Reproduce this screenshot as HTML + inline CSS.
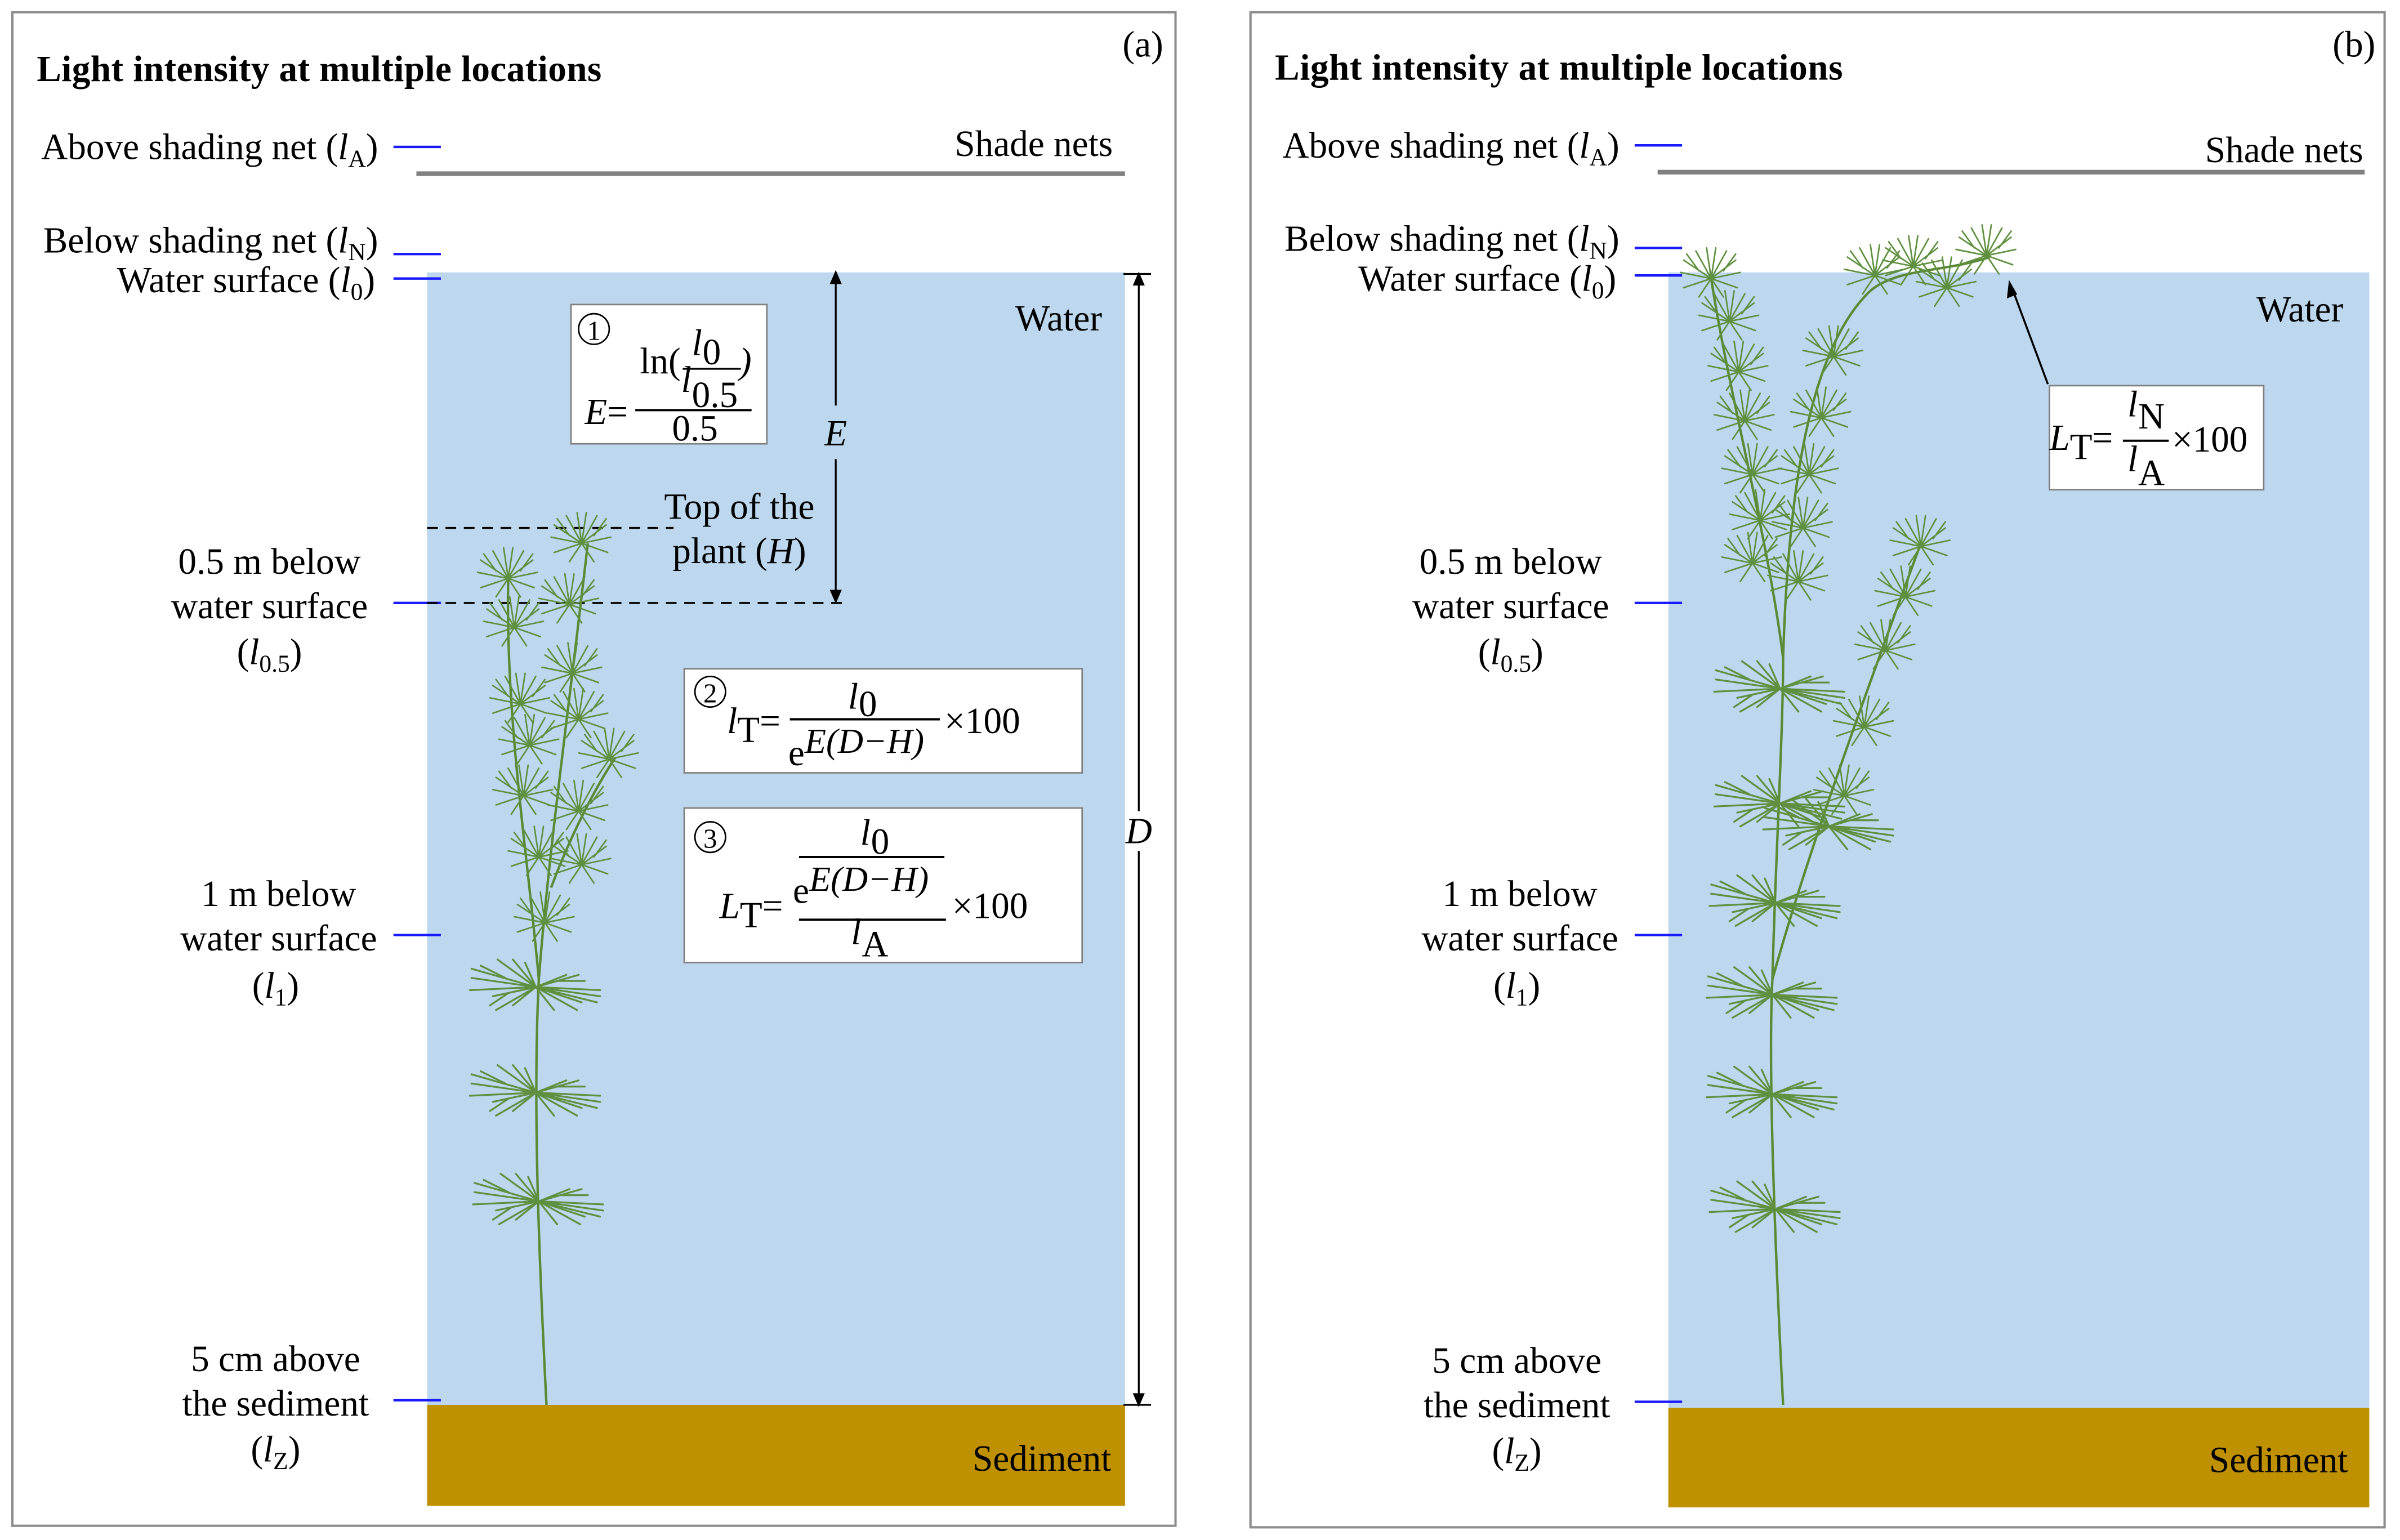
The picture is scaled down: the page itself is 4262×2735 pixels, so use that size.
<!DOCTYPE html>
<html><head><meta charset="utf-8"><style>html,body{margin:0;padding:0;background:#fff}svg{display:block}</style></head><body>
<svg width="4262" height="2735" viewBox="0 0 1568 1006.3" xmlns="http://www.w3.org/2000/svg" font-family="Liberation Serif, serif">
<defs>
<g id="w" stroke="#5f9040" stroke-width="1.2" fill="none" stroke-linecap="round">
<path d="M0,0L-42,-12M0,0L-42,-6M0,0L-43,2M0,0L-28,6M0,0L-26,15M0,0L-15,12M0,0L-25,-18M0,0L-15,-18M0,0L-7,-16M-20,-6L-36,-14M-18,4L-30,12"/>
<path d="M0,0L42,2M0,0L42,6M0,0L40,10M0,0L20,-8M0,0L28,-8M0,0L12,15M0,0L27,15M0,0L30,10M14,-4L32,-4"/>
</g>
<g id="s" stroke="#5f9040" stroke-width="1" fill="none" stroke-linecap="round">
<path d="M0,0L-18,-12M0,0L-20,-4M0,0L-18,6M0,0L-10,-18M0,0L-3,-20M0,0L16,-12M0,0L19,-4M0,0L17,6M0,0L10,-18M0,0L3,-20M-8,-5L-16,-16M8,-5L16,-16M0,0L-8,12M0,0L8,12"/>
</g>
</defs>
<rect x="8" y="8" width="760" height="989" fill="none" stroke="#8c8c8c" stroke-width="1.5"/>
<rect x="817" y="8" width="741" height="990" fill="none" stroke="#8c8c8c" stroke-width="1.5"/>

<!-- Panel A -->
<rect x="279" y="178" width="456" height="741" fill="#bdd7ee"/>
<rect x="279" y="918" width="456" height="66" fill="#bf9000"/>
<line x1="272" y1="113.5" x2="735" y2="113.5" stroke="#808080" stroke-width="3"/>
<g stroke="#1a1aff" stroke-width="1.6">
<line x1="257" y1="96" x2="288" y2="96"/><line x1="257" y1="166" x2="288" y2="166"/><line x1="257" y1="182" x2="288" y2="182"/>
<line x1="257" y1="394" x2="288" y2="394"/><line x1="257" y1="611" x2="288" y2="611"/><line x1="257" y1="915" x2="288" y2="915"/>
</g>
<g font-size="24" fill="#000">
<text x="24" y="53" font-weight="bold" textLength="369">Light intensity at multiple locations</text>
<text x="760" y="37" text-anchor="end">(a)</text>
<text x="247" y="104" text-anchor="end">Above shading net (<tspan font-style="italic">l</tspan><tspan font-size="16" dy="5">A</tspan><tspan dy="-5">)</tspan></text>
<text x="727" y="102" text-anchor="end">Shade nets</text>
<text x="247" y="165" text-anchor="end">Below shading net (<tspan font-style="italic">l</tspan><tspan font-size="16" dy="5">N</tspan><tspan dy="-5">)</tspan></text>
<text x="245" y="191" text-anchor="end">Water surface (<tspan font-style="italic">l</tspan><tspan font-size="16" dy="5">0</tspan><tspan dy="-5">)</tspan></text>
<text x="720" y="216" text-anchor="end">Water</text>
<text x="176" y="375" text-anchor="middle">0.5 m below</text>
<text x="176" y="404" text-anchor="middle">water surface</text>
<text x="176" y="434" text-anchor="middle">(<tspan font-style="italic">l</tspan><tspan font-size="16" dy="5">0.5</tspan><tspan dy="-5">)</tspan></text>
<text x="182" y="592" text-anchor="middle">1 m below</text>
<text x="182" y="621" text-anchor="middle">water surface</text>
<text x="180" y="652" text-anchor="middle">(<tspan font-style="italic">l</tspan><tspan font-size="16" dy="5">1</tspan><tspan dy="-5">)</tspan></text>
<text x="180" y="896" text-anchor="middle">5 cm above</text>
<text x="180" y="925" text-anchor="middle">the sediment</text>
<text x="180" y="955" text-anchor="middle">(<tspan font-style="italic">l</tspan><tspan font-size="16" dy="5">Z</tspan><tspan dy="-5">)</tspan></text>
<text x="726" y="961" text-anchor="end">Sediment</text>
<text x="483" y="339" text-anchor="middle">Top of the</text>
<text x="483" y="368" text-anchor="middle">plant (<tspan font-style="italic">H</tspan>)</text>
<text x="546" y="291" text-anchor="middle" font-style="italic">E</text>
<text x="744" y="551" text-anchor="middle" font-style="italic">D</text>
</g>
<g stroke="#000" stroke-width="1.3" stroke-dasharray="7,5">
<line x1="279" y1="345" x2="440" y2="345"/><line x1="279" y1="394" x2="552" y2="394"/>
</g>
<g stroke="#000" stroke-width="1.2" fill="#000">
<line x1="546" y1="184" x2="546" y2="265"/><path d="M546,178l-3,7h6z"/>
<line x1="546" y1="300" x2="546" y2="388"/><path d="M546,393l-3,-7h6z"/>
<line x1="734" y1="179" x2="752" y2="179"/><line x1="734" y1="918" x2="752" y2="918"/>
<line x1="744" y1="184" x2="744" y2="530"/><path d="M744,179l-3,7h6z"/>
<line x1="744" y1="556" x2="744" y2="912"/><path d="M744,918l-3,-7h6z"/>
</g>
<g fill="#fff" stroke="#7f7f7f" stroke-width="1">
<rect x="373" y="199" width="128" height="91"/>
<rect x="447" y="437" width="260" height="68"/>
<rect x="447" y="528" width="260" height="101"/>
</g>
<g font-size="24" fill="#000">
<circle cx="388" cy="215" r="10" fill="none" stroke="#000" stroke-width="1"/><text x="388" y="222" text-anchor="middle" font-size="18">1</text>
<text x="418" y="244">ln(</text>
<text x="452" y="232" font-style="italic">l</text><text x="459" y="238">0</text>
<line x1="446" y1="241" x2="484" y2="241" stroke="#000" stroke-width="1.2"/>
<text x="445" y="256" font-style="italic">l</text><text x="452" y="266">0.5</text>
<text x="483" y="244" font-style="italic">)</text>
<text x="382" y="277"><tspan font-style="italic">E</tspan>=</text>
<line x1="415" y1="268" x2="491" y2="268" stroke="#000" stroke-width="1.5"/>
<text x="439" y="288">0.5</text>

<circle cx="464" cy="452" r="10" fill="none" stroke="#000" stroke-width="1"/><text x="464" y="459" text-anchor="middle" font-size="18">2</text>
<text x="475" y="479"><tspan font-style="italic">l</tspan><tspan dy="6">T</tspan><tspan dy="-6">=</tspan></text>
<text x="554" y="463" font-style="italic">l</text><text x="561" y="468">0</text>
<line x1="516" y1="470" x2="614" y2="470" stroke="#000" stroke-width="1.5"/>
<text x="515" y="500">e<tspan font-style="italic" dy="-8" font-size="23">E(D−H)</tspan></text>
<text x="617" y="479">×100</text>

<circle cx="464" cy="547" r="10" fill="none" stroke="#000" stroke-width="1"/><text x="464" y="554" text-anchor="middle" font-size="18">3</text>
<text x="562" y="552" font-style="italic">l</text><text x="569" y="558">0</text>
<line x1="522" y1="560" x2="617" y2="560" stroke="#000" stroke-width="1.5"/>
<text x="518" y="590">e<tspan font-style="italic" dy="-8" font-size="23">E(D−H)</tspan></text>
<text x="470" y="600"><tspan font-style="italic">L</tspan><tspan dy="6">T</tspan><tspan dy="-6">=</tspan></text>
<line x1="522" y1="601" x2="618" y2="601" stroke="#000" stroke-width="1.5"/>
<text x="556" y="617" font-style="italic">l</text><text x="563" y="625">A</text>
<text x="622" y="600">×100</text>
</g>
<g stroke="#5a8a36" stroke-width="1.6" fill="none">
<path d="M357,918 C352,820 348,720 352,640 C358,560 372,460 384,355"/>
<path d="M352,640 C345,560 330,470 332,378"/>
<path d="M360,580 C375,540 392,510 402,495"/>
</g>
<use href="#s" x="380" y="355"/><use href="#s" x="332" y="378"/><use href="#s" x="372" y="395"/><use href="#s" x="336" y="410"/>
<use href="#s" x="374" y="440"/><use href="#s" x="340" y="460"/><use href="#s" x="378" y="470"/><use href="#s" x="346" y="487"/>
<use href="#s" x="398" y="496"/><use href="#s" x="342" y="520"/><use href="#s" x="378" y="530"/><use href="#s" x="352" y="560"/>
<use href="#s" x="380" y="565"/><use href="#s" x="356" y="603"/>
<use href="#w" x="350" y="645"/><use href="#w" x="350" y="714"/><use href="#w" x="352" y="785"/>

<!-- Panel B -->
<rect x="1090" y="178" width="458" height="743" fill="#bdd7ee"/>
<rect x="1090" y="920" width="458" height="65" fill="#bf9000"/>
<line x1="1083" y1="112.5" x2="1545" y2="112.5" stroke="#808080" stroke-width="3"/>
<g stroke="#1a1aff" stroke-width="1.6">
<line x1="1068" y1="95" x2="1099" y2="95"/><line x1="1068" y1="162" x2="1099" y2="162"/><line x1="1068" y1="180" x2="1099" y2="180"/>
<line x1="1068" y1="394" x2="1099" y2="394"/><line x1="1068" y1="611" x2="1099" y2="611"/><line x1="1068" y1="916" x2="1099" y2="916"/>
</g>
<g font-size="24" fill="#000">
<text x="833" y="52" font-weight="bold" textLength="371">Light intensity at multiple locations</text>
<text x="1552" y="37" text-anchor="end">(b)</text>
<text x="1058" y="103" text-anchor="end">Above shading net (<tspan font-style="italic">l</tspan><tspan font-size="16" dy="5">A</tspan><tspan dy="-5">)</tspan></text>
<text x="1544" y="106" text-anchor="end">Shade nets</text>
<text x="1058" y="164" text-anchor="end">Below shading net (<tspan font-style="italic">l</tspan><tspan font-size="16" dy="5">N</tspan><tspan dy="-5">)</tspan></text>
<text x="1056" y="190" text-anchor="end">Water surface (<tspan font-style="italic">l</tspan><tspan font-size="16" dy="5">0</tspan><tspan dy="-5">)</tspan></text>
<text x="1531" y="210" text-anchor="end">Water</text>
<text x="987" y="375" text-anchor="middle">0.5 m below</text>
<text x="987" y="404" text-anchor="middle">water surface</text>
<text x="987" y="434" text-anchor="middle">(<tspan font-style="italic">l</tspan><tspan font-size="16" dy="5">0.5</tspan><tspan dy="-5">)</tspan></text>
<text x="993" y="592" text-anchor="middle">1 m below</text>
<text x="993" y="621" text-anchor="middle">water surface</text>
<text x="991" y="652" text-anchor="middle">(<tspan font-style="italic">l</tspan><tspan font-size="16" dy="5">1</tspan><tspan dy="-5">)</tspan></text>
<text x="991" y="897" text-anchor="middle">5 cm above</text>
<text x="991" y="926" text-anchor="middle">the sediment</text>
<text x="991" y="956" text-anchor="middle">(<tspan font-style="italic">l</tspan><tspan font-size="16" dy="5">Z</tspan><tspan dy="-5">)</tspan></text>
<text x="1534" y="962" text-anchor="end">Sediment</text>
</g>
<rect x="1339" y="252" width="140" height="68" fill="#fff" stroke="#7f7f7f" stroke-width="1"/>
<g stroke="#000" stroke-width="1.3" fill="#000">
<line x1="1338" y1="251" x2="1316" y2="192"/><path d="M1313,185l-1,9l5,-2z"/>
</g>
<g font-size="24" fill="#000">
<text x="1339" y="294"><tspan font-style="italic">L</tspan><tspan dy="6">T</tspan><tspan dy="-6">=</tspan></text>
<text x="1390" y="272" font-style="italic">l</text><text x="1397" y="280">N</text>
<line x1="1387" y1="288" x2="1417" y2="288" stroke="#000" stroke-width="1.5"/>
<text x="1390" y="308" font-style="italic">l</text><text x="1397" y="317">A</text>
<text x="1419" y="295">×100</text>
</g>
<g stroke="#5a8a36" stroke-width="1.6" fill="none">
<path d="M1165,918 C1160,820 1155,700 1158,640 C1160,560 1165,480 1165,430 C1155,350 1130,260 1118,182"/>
<path d="M1165,430 C1168,330 1180,230 1222,190 C1240,175 1270,178 1300,168"/>
<path d="M1158,640 C1180,560 1220,450 1255,355"/>
</g>
<use href="#s" x="1118" y="182"/><use href="#s" x="1130" y="210"/><use href="#s" x="1136" y="243"/><use href="#s" x="1140" y="275"/>
<use href="#s" x="1198" y="233"/><use href="#s" x="1225" y="180"/><use href="#s" x="1250" y="174"/><use href="#s" x="1298" y="167"/><use href="#s" x="1272" y="188"/>
<use href="#s" x="1190" y="273"/><use href="#s" x="1145" y="310"/><use href="#s" x="1182" y="310"/><use href="#s" x="1150" y="340"/>
<use href="#s" x="1178" y="345"/><use href="#s" x="1145" y="368"/><use href="#s" x="1175" y="380"/><use href="#s" x="1255" y="357"/>
<use href="#s" x="1245" y="390"/><use href="#s" x="1232" y="425"/><use href="#s" x="1218" y="475"/><use href="#s" x="1205" y="520"/>
<use href="#w" x="1163" y="450"/><use href="#w" x="1163" y="525"/><use href="#w" x="1195" y="540"/><use href="#w" x="1160" y="590"/>
<use href="#w" x="1158" y="650"/><use href="#w" x="1158" y="715"/><use href="#w" x="1160" y="790"/>
</svg>
</body></html>
